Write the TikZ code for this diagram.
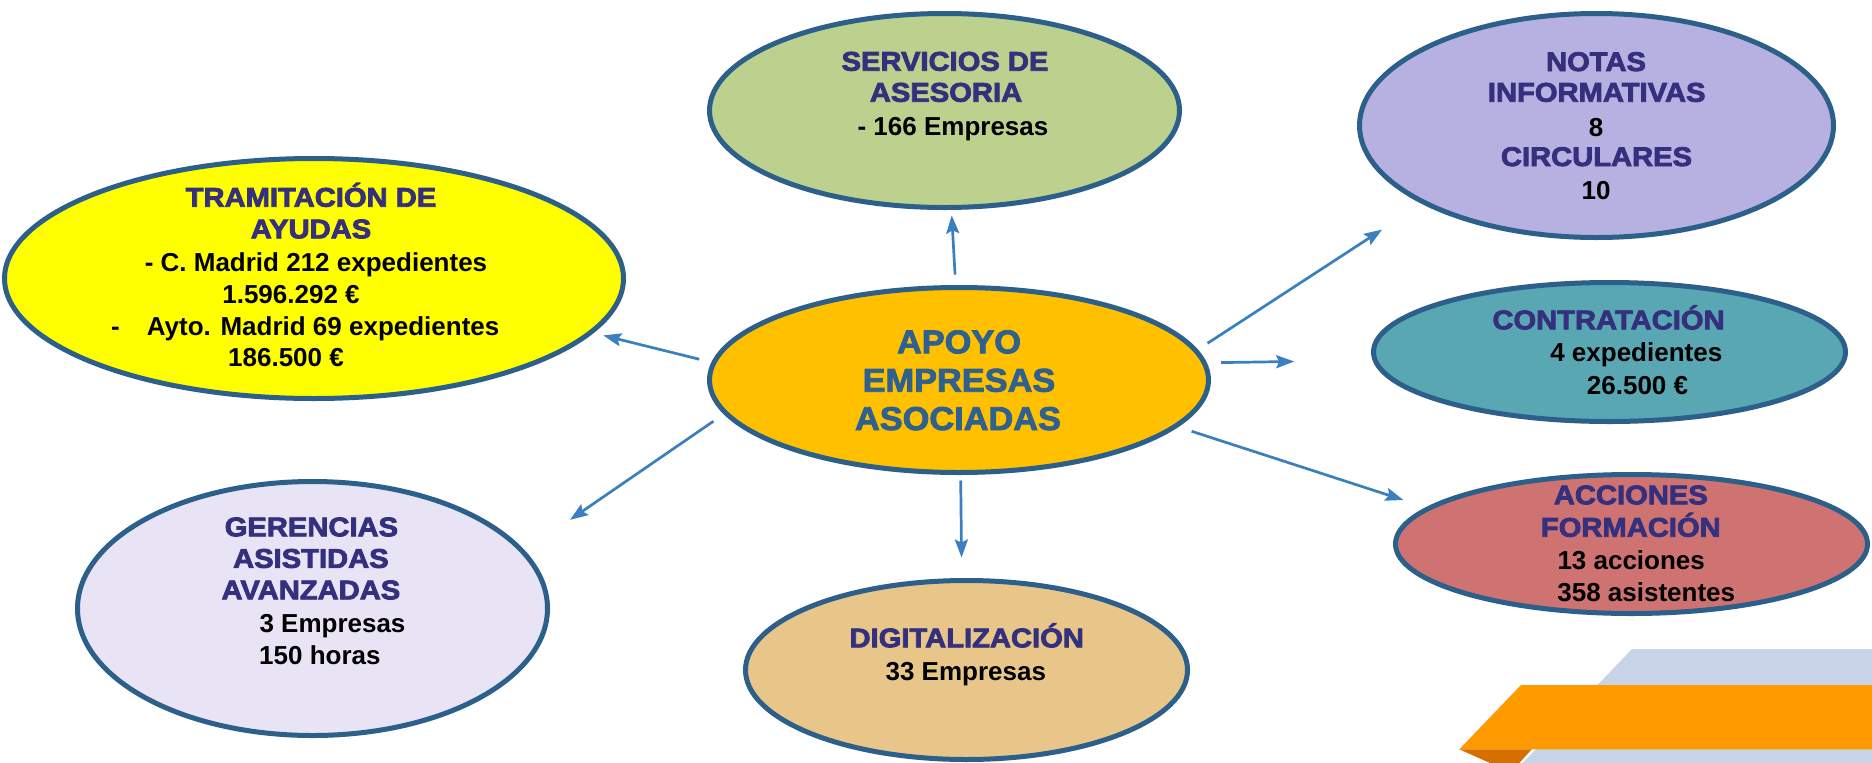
\documentclass[tikz,border=0pt]{standalone}
\usepackage{fontspec}
\setmainfont{Liberation Sans}
\newfontfamily\tfont{Liberation Sans}[FakeStretch=1.08,FakeBold=3]
\newfontfamily\cfont{Liberation Sans}[FakeStretch=1.04,FakeBold=2.5]
\usetikzlibrary{shapes.geometric,arrows.meta}
\definecolor{bordc}{RGB}{44,95,138}
\definecolor{titc}{RGB}{53,48,126}
\definecolor{apoyoc}{RGB}{46,97,144}
\definecolor{arrc}{RGB}{58,128,192}
\definecolor{servf}{RGB}{189,209,142}
\definecolor{tramf}{RGB}{255,255,0}
\definecolor{apoyof}{RGB}{255,192,0}
\definecolor{notasf}{RGB}{182,177,225}
\definecolor{contrf}{RGB}{90,167,180}
\definecolor{accf}{RGB}{207,115,114}
\definecolor{gerf}{RGB}{232,228,245}
\definecolor{digf}{RGB}{232,198,138}
\definecolor{decoblue}{RGB}{199,212,231}
\definecolor{decoorange}{RGB}{255,153,0}
\definecolor{decodark}{RGB}{212,111,0}
\begin{document}
\begin{tikzpicture}[x=1pt,y=-1pt,
  ell/.style={ellipse, draw=bordc, line width=5pt, inner sep=0pt, outer sep=0pt},
  ttl/.style={anchor=base, inner sep=0pt, text=titc, font=\tfont\bfseries\fontsize{27}{32}\selectfont},
  blk/.style={anchor=base, inner sep=0pt, text=black, font=\bfseries\fontsize{26}{30}\selectfont},
  cen/.style={anchor=base, inner sep=0pt, text=apoyoc, font=\cfont\bfseries\fontsize{33}{40}\selectfont},
  arr/.style={draw=arrc, line width=2.7pt, -{Stealth[length=18pt,width=13pt,inset=3pt]}}
]
\useasboundingbox[fill=white] (0,0) rectangle (1872,763);

% decoration
\fill[decoblue] (1632,649) -- (1872,649) -- (1872,763) -- (1522.7,763) -- cycle;
\fill[decoorange] (1521,685) -- (1872,685) -- (1872,749.3) -- (1459.3,749.3) -- cycle;
\fill[decodark] (1459.3,749.3) -- (1531.7,749.3) -- (1519.3,763) -- (1490,763) -- cycle;

% ellipses
\node[ell, fill=servf, minimum width=470pt, minimum height=194pt] (serv) at (944.5,110.5) {};
\node[ell, fill=tramf, minimum width=619pt, minimum height=240pt] (tram) at (314,278.5) {};
\node[ell, fill=apoyof, minimum width=499pt, minimum height=185pt] (apoyo) at (959,380) {};
\node[ell, fill=notasf, minimum width=474pt, minimum height=224pt] (notas) at (1596.5,125.5) {};
\node[ell, fill=contrf, minimum width=472pt, minimum height=139pt] (contr) at (1609.5,352) {};
\node[ell, fill=accf, minimum width=472pt, minimum height=139pt] (acc) at (1631.5,544) {};
\node[ell, fill=gerf, minimum width=470pt, minimum height=254pt] (ger) at (312.5,608.5) {};
\node[ell, fill=digf, minimum width=442pt, minimum height=179pt] (dig) at (966.5,670) {};

% texts
\node[cen] (ap1) at (959,353.3) {APOYO};
\node[cen] (ap2) at (959,391.7) {EMPRESAS};
\node[cen] (ap3) at (958,430) {ASOCIADAS};

\node[ttl] (se1) at (945,70.7) {SERVICIOS DE};
\node[ttl] (se2) at (946,101.7) {ASESORIA};
\node[blk] (se3) at (953,135) {- 166 Empresas};

\node[ttl] (tr1) at (311,206.7) {TRAMITACIÓN DE};
\node[ttl] (tr2) at (311,238.3) {AYUDAS};
\node[blk] (tr3) at (316,271.7) {- C. Madrid 212 expedientes};
\node[blk] (tr4) at (291,303.3) {1.596.292 €};
\node[blk, anchor=base west] (tr5) at (111,335) {-\hspace*{27pt}Ayto. Madrid 69 expedientes};
\node[blk] (tr6) at (286,366.7) {186.500 €};

\node[ttl] (no1) at (1596,71) {NOTAS};
\node[ttl] (no2) at (1596.7,101.7) {INFORMATIVAS};
\node[blk] (no3) at (1596,136) {8};
\node[ttl] (no4) at (1596.5,166) {CIRCULARES};
\node[blk] (no5) at (1596,199.3) {10};

\node[ttl] (co1) at (1608.5,329.3) {CONTRATACIÓN};
\node[blk] (co2) at (1636.3,361.7) {4 expedientes};
\node[blk] (co3) at (1637.5,394) {26.500 €};

\node[ttl] (ac1) at (1630.8,504.3) {ACCIONES};
\node[ttl] (ac2) at (1630.8,536.7) {FORMACIÓN};
\node[blk] (ac3) at (1631.2,569.3) {13 acciones};
\node[blk] (ac4) at (1646.3,601.7) {358 asistentes};

\node[ttl] (ge1) at (311.4,536.3) {GERENCIAS};
\node[ttl] (ge2) at (310.9,567.8) {ASISTIDAS};
\node[ttl] (ge3) at (310.9,599.3) {AVANZADAS};
\node[blk] (ge4) at (332.5,632.5) {3 Empresas};
\node[blk] (ge5) at (319.9,664) {150 horas};

\node[ttl] (di1) at (966.7,647.3) {DIGITALIZACIÓN};
\node[blk] (di2) at (965.8,680) {33 Empresas};

% arrows
\draw[arr, shorten <=13pt, shorten >=8pt] (apoyo.92.4) -- (serv.274.3);
\draw[arr, shorten <=15pt, shorten >=13pt] (apoyo.176.7) -- (tram.-11.9);
\draw[arr, shorten <=15pt, shorten >=57pt] (apoyo.188.5) -- (ger.15.5);
\draw[arr, shorten <=8pt, shorten >=23pt] (apoyo.-89.5) -- (dig.93);
\draw[arr, shorten <=14pt, shorten >=50pt] (apoyo.7) -- (notas.204.7);
\draw[arr, shorten <=17pt, shorten >=81pt] (apoyo.4.2) -- (contr.182.2);
\draw[arr, shorten <=17pt, shorten >=27pt] (apoyo.-12.6) -- (acc.170);
\end{tikzpicture}
\end{document}
